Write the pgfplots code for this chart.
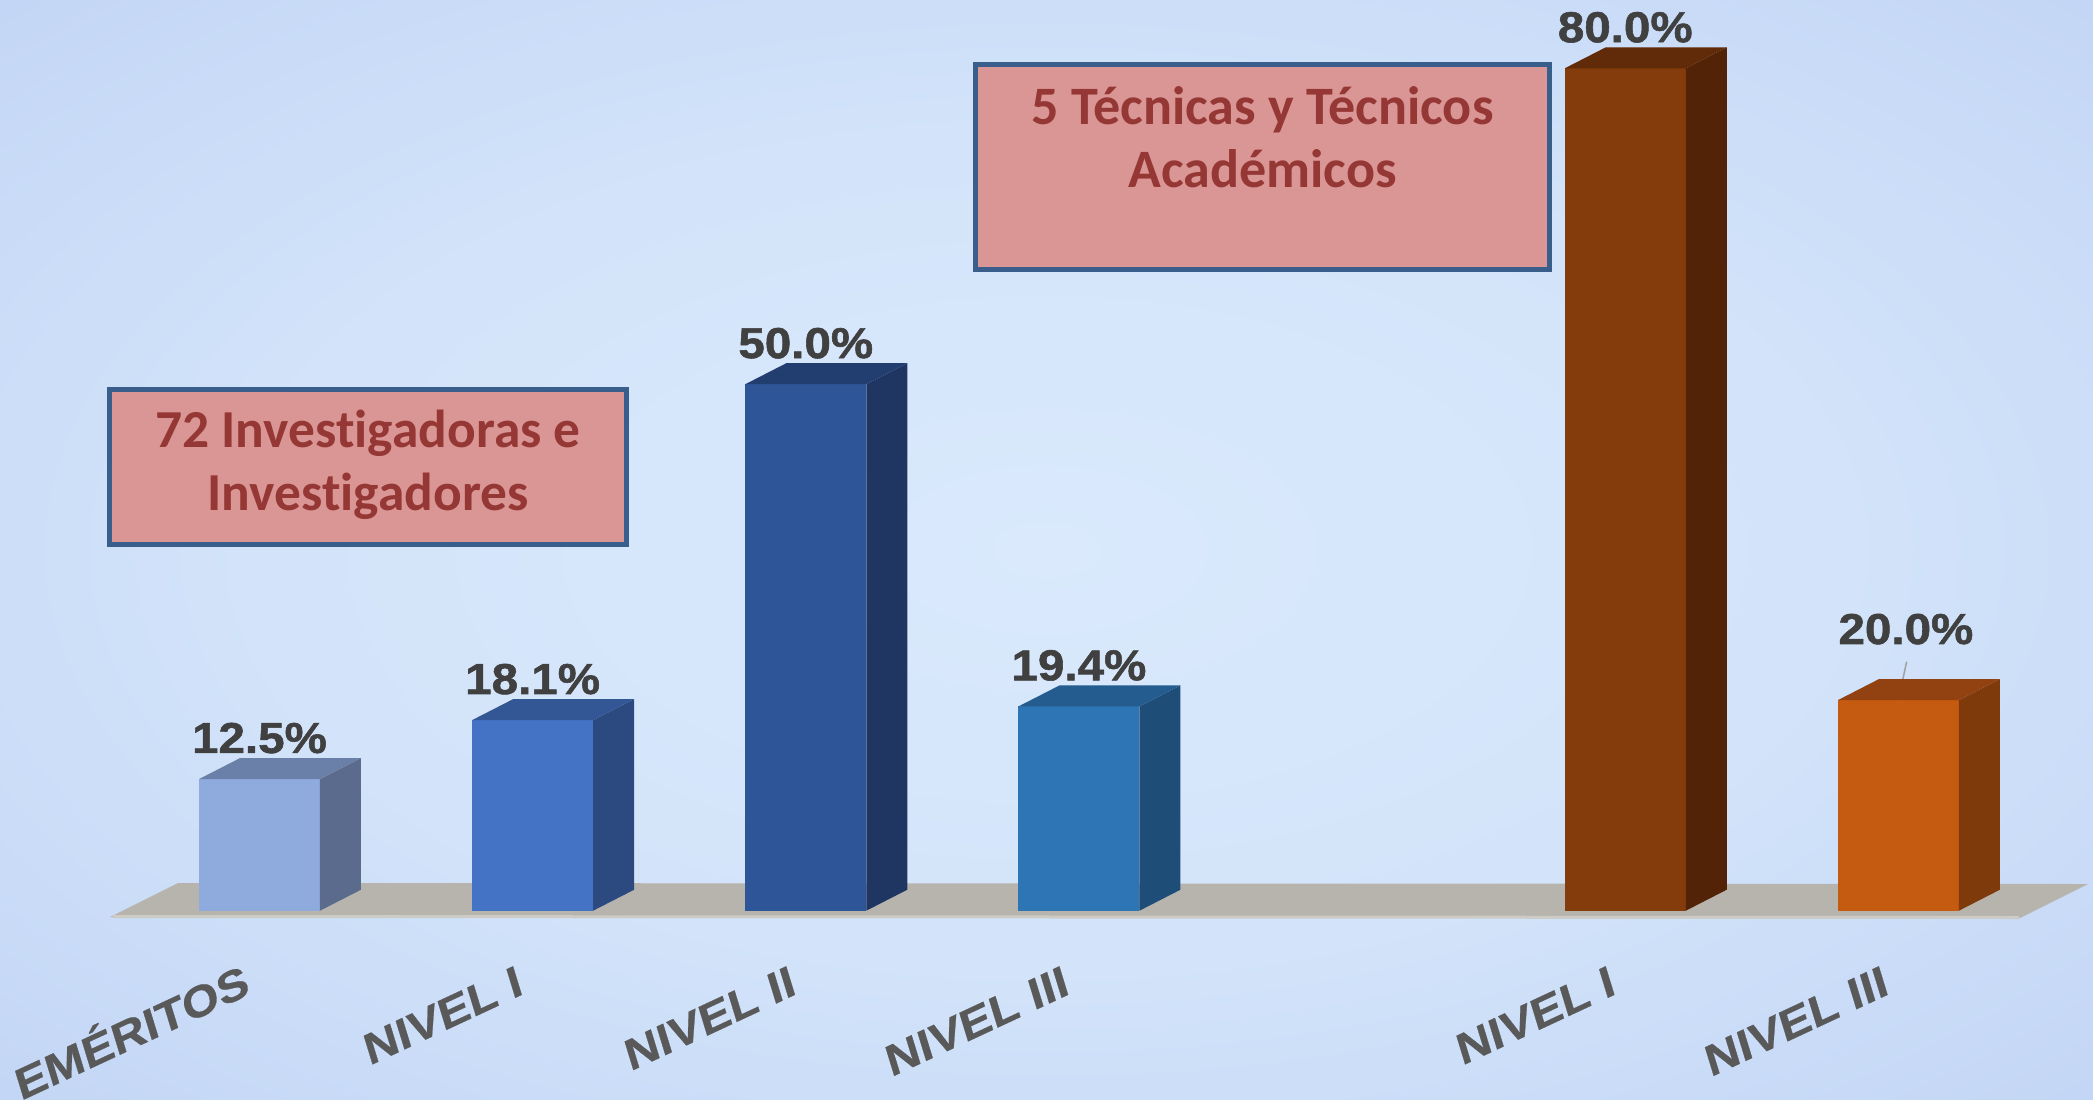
\documentclass[border=0pt]{standalone}
\usepackage{pgfplots}
\usepackage{pgfplotstable}
\pgfplotsset{compat=1.18}
\usepackage{fontspec}
\setmainfont{Liberation Sans}
\newfontfamily\heavy{Liberation Sans}[FakeStretch=1.1, BoldFeatures={FakeBold=1.3}]
\newfontfamily\tickfont{Liberation Sans}[FakeStretch=1.14, BoldFeatures={FakeBold=0.6}]
\newfontfamily\boxfont{Carlito}[Ligatures=NoCommon]

% background and floor
\definecolor{bgin}{HTML}{DAE9FC}
\definecolor{bgmid}{HTML}{D3E4FA}
\definecolor{bgedge}{HTML}{BACEF2}
\definecolor{bgout}{HTML}{A8BEEC}
\definecolor{floorc}{HTML}{B7B4AD}
\definecolor{floore}{HTML}{CDCBC5}
% bars: front / side / top
\definecolor{f0}{HTML}{8FAADC}\definecolor{s0}{HTML}{5A6B8D}\definecolor{t0}{HTML}{6A80A8}
\definecolor{f1}{HTML}{4472C4}\definecolor{s1}{HTML}{2C4A80}\definecolor{t1}{HTML}{335694}
\definecolor{f2}{HTML}{2E5597}\definecolor{s2}{HTML}{1F3662}\definecolor{t2}{HTML}{223E70}
\definecolor{f3}{HTML}{2E75B6}\definecolor{s3}{HTML}{1E4D78}\definecolor{t3}{HTML}{245C8F}
\definecolor{f5}{HTML}{843C0C}\definecolor{s5}{HTML}{532307}\definecolor{t5}{HTML}{612A08}
\definecolor{f6}{HTML}{C55A11}\definecolor{s6}{HTML}{7F3A0C}\definecolor{t6}{HTML}{924110}
% text
\definecolor{labc}{HTML}{404040}
\definecolor{tickc}{HTML}{595959}
\definecolor{boxfill}{HTML}{DA9694}
\definecolor{boxline}{HTML}{3A5E8C}
\definecolor{boxtext}{HTML}{953735}
\definecolor{leader}{HTML}{A0A0A0}

\pgfdeclareradialshading{bg}{\pgfpoint{0bp}{0bp}}{%
  color(0bp)=(bgin); color(18bp)=(bgmid); color(45bp)=(bgedge); color(71bp)=(bgout)}

\pgfdeclareplotmark{nomark}{}

\pgfplotstableread{
x y
0 12.5
1 18.1
2 50.0
3 19.4
5 80.0
6 20.0
}\datatable

\pgfplotsset{
  box/.style 2 args={
    only marks, scatter, mark=nomark,
    visualization depends on={rawy \as \val},
    scatter/@pre marker code/.code={
      \path[fill=#1, draw=none] (0.605cm,0pt) -- ++(0.41cm,0.21cm) -- ++(0pt,-\val*0.1053cm)
        -- ++(-0.41cm,-0.21cm) -- cycle;
      \path[fill=#2, draw=none] (-0.605cm,0pt) -- ++(0.41cm,0.21cm) -- ++(1.21cm,0pt)
        -- ++(-0.41cm,-0.21cm) -- cycle;
    },
    scatter/@post marker code/.code={},
  },
  front/.style={
    ybar, bar shift=0pt, bar width=1.21cm, fill=#1, draw=none,
    nodes near coords={\pgfmathprintnumber[fixed,fixed zerofill,precision=1,assume math mode=true]{\pgfplotspointmeta}\%},
    nodes near coords style={font=\heavy\bfseries\fontsize{12.3}{14}\selectfont,
      text=labc, anchor=south, inner sep=0pt, yshift=0.25cm},
  },
}

\begin{document}
\begin{tikzpicture}
\shade[shading=bg] (0,0) rectangle (20.93,10.99);
\fill[floorc] (1.10,1.82) -- (1.78,2.16) -- (20.88,2.15) -- (20.20,1.81) -- cycle;
\draw[floore, line width=0.03cm] (1.13,1.825) -- (20.19,1.815);

\begin{axis}[
  at={(0,0)}, anchor=south west,
  x=2.7315cm, y=0.1053cm,
  xmin=-0.95, xmax=6.7124, ymin=-17.882, ymax=86.486,
  axis line style={draw=none},
  major tick length=0pt,
  ytick=\empty,
  xtick={0,1,2,3,5,6},
  xticklabels={EMÉRITOS, NIVEL I, NIVEL II, NIVEL III, NIVEL I, NIVEL III},
  xticklabel style={font=\tickfont\bfseries\fontsize{12.2}{12.2}\selectfont, text=tickc,
    anchor=north east, inner sep=0pt, text height=0.72em,
    xshift=-0.15cm, yshift=1.31cm, rotate=25, xslant=0.14},
  clip=false,
]
\pgfplotsinvokeforeach{0,1,2,3,5}{
  \addplot[box={s#1}{t#1}, restrict x to domain=#1:#1] table[x=x, y=y] {\datatable};
  \addplot[front=f#1, restrict x to domain=#1:#1] table[x=x, y=y] {\datatable};
}
\addplot[box={s6}{t6}, restrict x to domain=6:6] table[x=x, y=y] {\datatable};
\addplot[front=f6, restrict x to domain=6:6,
  nodes near coords style={xshift=0.075cm, yshift=0.3cm}] table[x=x, y=y] {\datatable};
\draw[leader, line width=0.015cm] (axis cs:6.03,23.65) -- (axis cs:6.0,20.0);
\end{axis}

\draw[boxline, line width=0.05cm, fill=boxfill] (1.095,5.545) rectangle (6.265,7.095);
\node[font=\boxfont\bfseries\fontsize{15.2}{18}\selectfont, text=boxtext, anchor=base, inner sep=0pt]
  at (3.68,6.52) {72 Investigadoras e};
\node[font=\boxfont\bfseries\fontsize{15.2}{18}\selectfont, text=boxtext, anchor=base, inner sep=0pt]
  at (3.68,5.89) {Investigadores};

\draw[boxline, line width=0.05cm, fill=boxfill] (9.755,8.295) rectangle (15.495,10.345);
\node[font=\boxfont\bfseries\fontsize{15.4}{18}\selectfont, text=boxtext, anchor=base, inner sep=0pt]
  at (12.625,9.74) {5 Técnicas y Técnicos};
\node[font=\boxfont\bfseries\fontsize{15.4}{18}\selectfont, text=boxtext, anchor=base, inner sep=0pt]
  at (12.625,9.11) {Académicos};

\pgfresetboundingbox
\path[use as bounding box] (0,0) rectangle (20.93,10.99);
\end{tikzpicture}
\end{document}
